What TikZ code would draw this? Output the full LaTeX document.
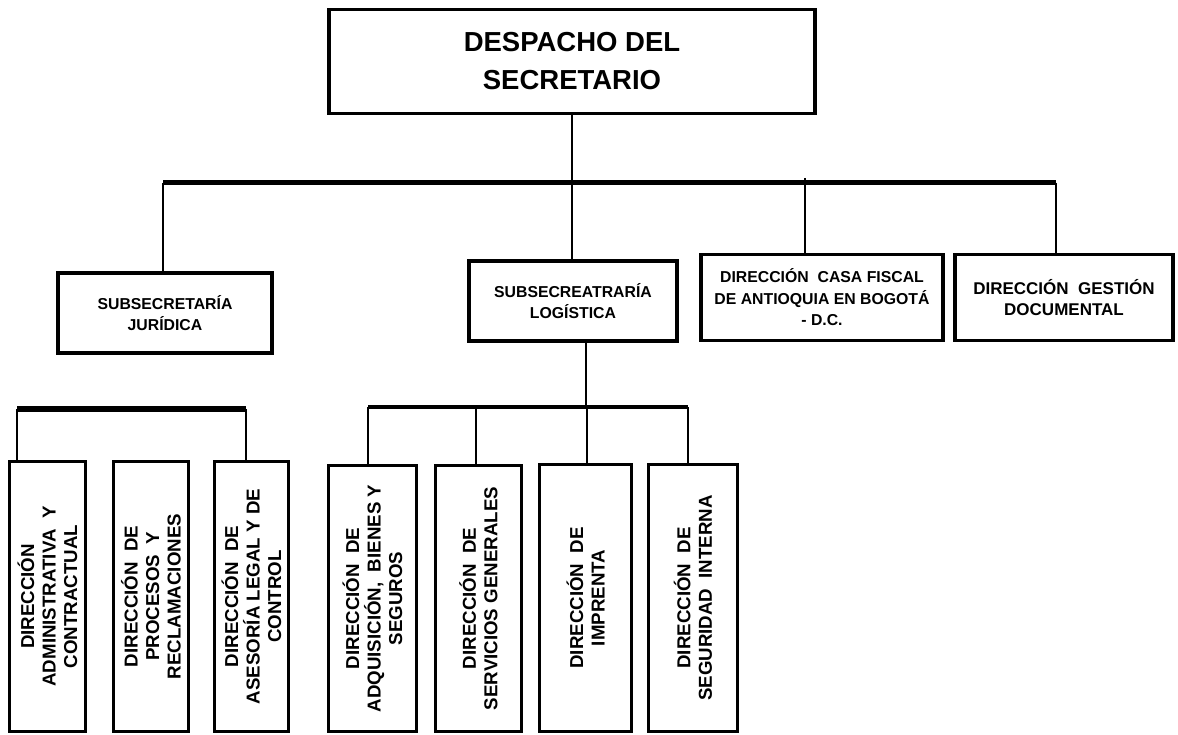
\documentclass[tikz,border=0pt]{standalone}
\usepackage{fontspec}
\setmainfont{Liberation Sans}
\begin{document}
\begin{tikzpicture}[x=1pt,y=-1pt,
  box/.style={draw, line width=3.5pt, fill=white, inner sep=0pt, align=center,
    font=\bfseries\fontsize{15.8}{21.5}\selectfont},
  topbox/.style={box, line width=3.5pt, font=\bfseries\fontsize{27.5}{38}\selectfont},
  vbox/.style={box, rotate=90, font=\bfseries\fontsize{18.7}{21.5}\selectfont},
  conn/.style={line width=2.8pt},
  mainbar/.style={line width=5pt},
  subbar/.style={line width=4pt}]
\useasboundingbox (0,0) rectangle (1178,735);

% top
\node[topbox, minimum width=486pt, minimum height=104pt] (top) at (572,61.5) {DESPACHO DEL\\SECRETARIO};

% second level
\node[box, minimum width=214pt, minimum height=80pt] (jur) at (165,313) {SUBSECRETARÍA\\JURÍDICA};
\node[box, minimum width=208pt, minimum height=80pt] (log) at (573,301) {SUBSECREATRARÍA\\LOGÍSTICA};
\node[box, minimum width=242pt, minimum height=86pt] (casa) at (822,297.5) {DIRECCIÓN\ \ CASA FISCAL\\DE ANTIOQUIA EN BOGOTÁ\\- D.C.};
\node[box, minimum width=218pt, minimum height=86pt, font=\bfseries\fontsize{17}{21.5}\selectfont] (ges) at (1064,297.5) {DIRECCIÓN\ \ GESTIÓN\\DOCUMENTAL};

% third level (vertical)
\node[vbox, minimum width=270pt, minimum height=76pt] (b1) at (47.5,596.5) {DIRECCIÓN\\ADMINISTRATIVA\ \ Y\\CONTRACTUAL};
\node[vbox, minimum width=270pt, minimum height=75pt] (b2) at (151,596.5) {DIRECCIÓN\ \ DE\\PROCESOS\ \ Y\\RECLAMACIONES};
\node[vbox, minimum width=270pt, minimum height=74pt] (b3) at (251.5,596.5) {DIRECCIÓN\ \ DE\\ASESORÍA LEGAL Y DE\\CONTROL};
\node[vbox, minimum width=266pt, minimum height=88pt] (b4) at (372.5,598.5) {DIRECCIÓN\ \ DE\\ADQUISICIÓN,\ \ BIENES Y\\SEGUROS};
\node[vbox, minimum width=266pt, minimum height=86pt] (b5) at (478.5,598.5) {DIRECCIÓN\ \ DE\\SERVICIOS GENERALES};
\node[vbox, minimum width=267pt, minimum height=92pt] (b6) at (585.5,598) {DIRECCIÓN\ \ DE\\IMPRENTA};
\node[vbox, minimum width=267pt, minimum height=89pt] (b7) at (693,598) {DIRECCIÓN\ \ DE\\SEGURIDAD\ \ INTERNA};

% coordinates
\coordinate (barL) at (163,183);
\coordinate (barR) at (1056,183);
\coordinate (casaT) at (805,178);
\coordinate (lb) at (586,407);
\coordinate (rb1) at (368,407);
\coordinate (rb2) at (476,407);
\coordinate (rb3) at (587,407);
\coordinate (rb4) at (688,407);
\coordinate (lb1) at (17,409);
\coordinate (lb2) at (246,409);

% main connectors
\draw[conn] (top.south) -- (top.south |- log.north);
\draw[mainbar] (barL) -- (barR);
\draw[conn] (barL) -- (barL |- jur.north);
\draw[conn] (casaT) -- (casaT |- casa.north);
\draw[conn] (barR) -- (barR |- ges.north);

% logistica bracket
\draw[conn] (lb |- log.south) -- (lb);
\draw[subbar] (rb1) -- (rb4);
\draw[conn] (rb1) -- (rb1 |- b4.east);
\draw[conn] (rb2) -- (rb2 |- b5.east);
\draw[conn] (rb3) -- (rb3 |- b6.east);
\draw[conn] (rb4) -- (rb4 |- b7.east);

% left bracket
\draw[line width=6pt] (lb1) -- (lb2);
\draw[conn] (lb1) -- (lb1 |- b1.east);
\draw[conn] (lb2) -- (lb2 |- b3.east);
\end{tikzpicture}
\end{document}
